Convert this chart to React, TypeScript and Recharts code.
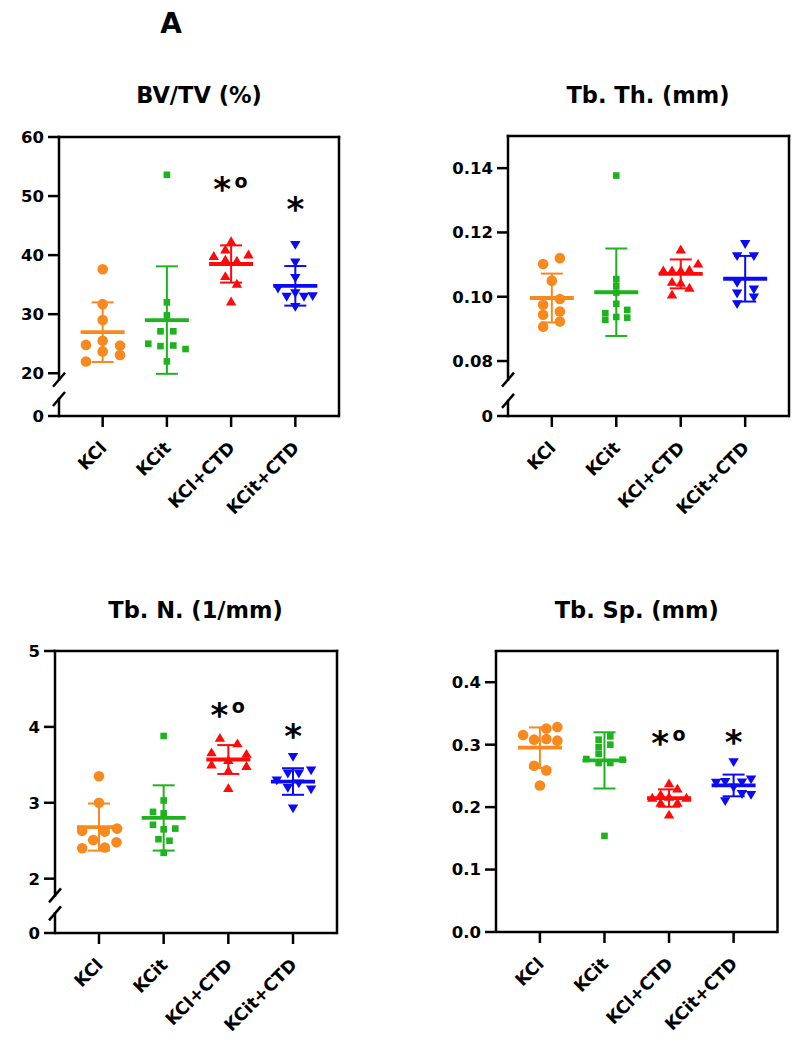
import React from 'react';
import { ScatterChart, Scatter, XAxis, YAxis, ErrorBar, ReferenceLine } from 'recharts';

const groups = ['KCl', 'KCit', 'KCl+CTD', 'KCit+CTD'];
const colors = ['#F7891F', '#1DB31D', '#FF0A0A', '#0A0AF5'];
const markers = ['circle', 'square', 'triangle', 'triangleDown'];

// BV/TV (%)
const bvtvKCl = [37.6, 31.7, 29.0, 25.5, 24.8, 24.7, 23.7, 23.1, 22.0];
const bvtvKCit = [53.6, 32.0, 29.8, 27.1, 27.1, 25.0, 24.6, 24.7, 24.1, 22.0];
const bvtvKClCTD = [42.3, 40.9, 39.8, 40.05, 39.2, 39.0, 36.4, 35.1, 32.1];
const bvtvKCitCTD = [41.8, 38.8, 36.2, 34.4, 33.0, 33.6, 33.0, 33.1, 31.3];
const bvtvJitter = [
  [0, 0, 0, 0, -0.26, 0.27, 0, 0.27, -0.26],
  [0, 0, 0, -0.1, 0.1, -0.29, -0.1, 0.1, 0.29, 0],
  [0, -0.09, -0.27, 0.27, -0.09, 0.09, -0.09, 0.09, 0],
  [0, 0, 0, -0.27, -0.135, 0, 0.135, 0.27, 0],
];
const bvtvMean = [26.95, 29.0, 38.5, 34.8];
const bvtvSD = [5.05, 9.1, 3.15, 3.35];
const bvtvMarks = ['', '', '*o', '*'];
const bvtvMarkY = [0, 0, 52.3, 49.0];

// Tb. Th. (mm)
const tbthKCl = [0.1102, 0.112, 0.105, 0.0993, 0.0975, 0.0944, 0.0954, 0.0923, 0.0907];
const tbthKCit = [0.1377, 0.1055, 0.1034, 0.1013, 0.0978, 0.0949, 0.0959, 0.0928, 0.0937, 0.0935];
const tbthKClCTD = [0.1146, 0.1081, 0.1081, 0.1081, 0.1083, 0.1102, 0.1045, 0.1042, 0.1027, 0.1006];
const tbthKCitCTD = [0.1165, 0.1127, 0.1127, 0.1044, 0.1024, 0.1011, 0.0999, 0.0978];
const tbthJitter = [
  [-0.135, 0.125, 0, 0.125, -0.135, -0.135, 0.125, 0.125, -0.135],
  [0, 0, 0, 0, 0, -0.17, 0.17, -0.17, 0, 0.17],
  [0, -0.27, -0.135, 0, 0.135, 0.27, -0.135, 0, 0.135, -0.135],
  [0, -0.125, 0.135, -0.125, 0.135, -0.125, 0.135, -0.125],
];
const tbthMean = [0.0996, 0.1014, 0.1071, 0.1056];
const tbthSD = [0.0076, 0.0136, 0.0045, 0.0071];
const tbthMarks = ['', '', '', ''];
const tbthMarkY = [0, 0, 0, 0];

// Tb. N. (1/mm)
const tbnKCl = [3.35, 3.0, 2.63, 2.62, 2.66, 2.51, 2.48, 2.4, 2.41];
const tbnKCit = [3.88, 3.03, 2.88, 2.86, 2.71, 2.65, 2.66, 2.52, 2.5, 2.34];
const tbnKClCTD = [3.85, 3.78, 3.66, 3.64, 3.5, 3.48, 3.56, 3.42, 3.19];
const tbnKCitCTD = [3.61, 3.39, 3.39, 3.43, 3.3, 3.2, 3.26, 3.18, 2.93];
const tbnJitter = [
  [0, 0, -0.26, 0.09, 0.28, -0.09, 0.27, -0.26, 0.09],
  [0, 0, -0.165, 0, -0.165, 0, 0.18, -0.08, 0.09, 0],
  [-0.13, 0.14, -0.26, 0.28, -0.26, 0.28, 0, 0, 0],
  [0, -0.08, 0.09, 0.28, -0.25, -0.08, 0.09, 0.28, 0],
];
const tbnMean = [2.68, 2.8, 3.57, 3.28];
const tbnSD = [0.31, 0.43, 0.19, 0.175];
const tbnMarks = ['', '', '*o', '*'];
const tbnMarkY = [0, 0, 4.25, 3.97];

// Tb. Sp. (mm)
const tbspKCl = [0.3156, 0.3257, 0.3284, 0.308, 0.309, 0.3064, 0.2663, 0.2588, 0.2347];
const tbspKCit = [0.1539, 0.308, 0.3133, 0.2963, 0.3, 0.2855, 0.2706, 0.2706, 0.277, 0.276];
const tbspKClCTD = [0.2375, 0.229, 0.22, 0.2145, 0.216, 0.2145, 0.2065, 0.2065, 0.1876];
const tbspKCitCTD = [0.2725, 0.245, 0.241, 0.24, 0.2395, 0.232, 0.2215, 0.22, 0.21];
const tbspJitter = [
  [-0.26, 0.1, 0.27, -0.09, 0.1, 0.27, -0.09, 0.1, 0],
  [0, -0.09, 0.09, -0.09, 0.09, -0.09, -0.09, 0.09, -0.28, 0.28],
  [0, 0.13, -0.13, -0.26, 0, 0.27, -0.13, 0.13, 0],
  [0, 0.27, -0.13, 0.13, -0.27, 0, 0.13, 0.27, -0.13],
];
const tbspMean = [0.2952, 0.2748, 0.2145, 0.2347];
const tbspSD = [0.0324, 0.045, 0.0139, 0.0174];
const tbspMarks = ['', '', '*o', '*'];
const tbspMarkY = [0, 0, 0.3144, 0.316];

const X_MIN = 0.32;
const X_MAX = 4.68;
const FONT = '"DejaVu Sans", Arial, sans-serif';
const PAD_L = 60;
const PAD_T = 20;
const PAD_R = 10;
const PAD_B = 110;

const markerShape = (kind: string, color: string) => (props: any) => {
  const { cx, cy } = props;
  if (cx == null || cy == null) return null;
  if (kind === 'circle') return <circle cx={cx} cy={cy} r={5.3} fill={color} />;
  if (kind === 'square') return <rect x={cx - 3.3} y={cy - 3.3} width={6.6} height={6.6} fill={color} />;
  if (kind === 'triangle')
    return <path d={`M${cx},${cy - 5.2}L${cx + 5.2},${cy + 3.6}L${cx - 5.2},${cy + 3.6}Z`} fill={color} />;
  return <path d={`M${cx},${cy + 5.2}L${cx + 5.2},${cy - 3.6}L${cx - 5.2},${cy - 3.6}Z`} fill={color} />;
};

const meanShape = (color: string) => (props: any) => {
  const { cx, cy } = props;
  if (cx == null || cy == null) return null;
  return <line x1={cx - 22} x2={cx + 22} y1={cy} y2={cy} stroke={color} strokeWidth={3.8} />;
};

const markShape = (props: any) => {
  const { cx, cy, payload } = props;
  if (cx == null || cy == null) return null;
  const two = payload.mark.length > 1;
  return (
    <g fontFamily={FONT} fontWeight={700} fill="#000">
      <text x={two ? cx - 9 : cx} y={cy + 19} textAnchor="middle" fontSize={34}>*</text>
      {two && (
        <text x={cx + 10} y={cy + 5.5} textAnchor="middle" fontSize={19}>o</text>
      )}
    </g>
  );
};

const XTick = (props: any) => {
  const { x, y, payload } = props;
  const ax = x + 5;
  const ay = y + 22;
  return (
    <text
      x={ax}
      y={ay}
      textAnchor="end"
      transform={`rotate(-45 ${ax} ${ay})`}
      fontSize={17.5}
      fontWeight={700}
      fontFamily={FONT}
      fill="#000"
    >
      {groups[payload.value - 1]}
    </text>
  );
};

interface PanelProps {
  title: string;
  values: number[][];
  jitter: number[][];
  means: number[];
  sds: number[];
  marks: string[];
  markY: number[];
  yMin: number;
  yMax: number;
  yTicks: number[];
  fmt: (v: number) => string;
  breaks?: [number, number];
  left: number;
  top: number;
  w: number;
  h: number;
  titleTop: number;
}

const Panel = ({ title, values, jitter, means, sds, marks, markY, yMin, yMax, yTicks, fmt, breaks, left, top, w, h, titleTop }: PanelProps) => {
  const unitX = (X_MAX - X_MIN) / w;
  const unitY = (yMax - yMin) / h;
  const line = { stroke: '#000', strokeWidth: 2.5 };
  const frame = { ...line, strokeLinecap: 'square' as const, ifOverflow: 'visible' as const };
  const slash = { ...line, ifOverflow: 'visible' as const };
  const markData = marks
    .map((m, g) => (m ? { x: g + 1, y: markY[g], mark: m } : null))
    .filter(Boolean);

  return (
    <>
      <div
        style={{
          position: 'absolute',
          left,
          width: w,
          top: titleTop,
          textAlign: 'center',
          fontFamily: FONT,
          fontWeight: 700,
          fontSize: 22.5,
          lineHeight: '22px',
          whiteSpace: 'nowrap',
        }}
      >
        {title}
      </div>
      <div style={{ position: 'absolute', left: left - PAD_L, top: top - PAD_T }}>
        <ScatterChart
          width={w + PAD_L + PAD_R}
          height={h + PAD_T + PAD_B}
          margin={{ top: PAD_T, right: PAD_R, bottom: 0, left: 0 }}
        >
          <XAxis
            type="number"
            dataKey="x"
            domain={[X_MIN, X_MAX]}
            ticks={[1, 2, 3, 4]}
            allowDataOverflow
            interval={0}
            height={PAD_B}
            tickSize={11}
            tickMargin={0}
            axisLine={line}
            tickLine={line}
            tick={<XTick />}
          />
          <YAxis
            type="number"
            dataKey="y"
            domain={[yMin, yMax]}
            ticks={yTicks}
            allowDataOverflow
            interval={0}
            width={PAD_L}
            tickSize={11}
            tickMargin={4}
            axisLine={breaks ? false : line}
            tickLine={line}
            tick={{ fill: '#000', fontSize: 16.5, fontWeight: 700, fontFamily: FONT }}
            tickFormatter={fmt}
          />
          <ReferenceLine y={yMax} {...frame} />
          <ReferenceLine x={X_MAX} {...frame} />
          {breaks && (
            <ReferenceLine segment={[{ x: X_MIN, y: breaks[0] }, { x: X_MIN, y: yMax }]} {...frame} />
          )}
          {breaks && (
            <ReferenceLine segment={[{ x: X_MIN, y: yMin }, { x: X_MIN, y: breaks[1] }]} {...frame} />
          )}
          {breaks &&
            breaks.map((b, i) => (
              <ReferenceLine
                key={'brk' + i}
                segment={[
                  { x: X_MIN - 6 * unitX, y: b - 7 * unitY },
                  { x: X_MIN + 6 * unitX, y: b + 7 * unitY },
                ]}
                {...slash}
              />
            ))}
          {values.map((vals, g) => (
            <Scatter
              key={'pts' + g}
              data={vals.map((v, i) => ({ x: g + 1 + jitter[g][i], y: v }))}
              shape={markerShape(markers[g], colors[g])}
              isAnimationActive={false}
            />
          ))}
          {means.map((m, g) => (
            <Scatter
              key={'mean' + g}
              data={[{ x: g + 1, y: m, sd: sds[g] }]}
              shape={meanShape(colors[g])}
              isAnimationActive={false}
            >
              <ErrorBar
                dataKey="sd"
                direction="y"
                width={11}
                stroke={colors[g]}
                strokeWidth={2}
                isAnimationActive={false}
              />
            </Scatter>
          ))}
          {markData.length > 0 && (
            <Scatter data={markData as any[]} shape={markShape} isAnimationActive={false} />
          )}
        </ScatterChart>
      </div>
    </>
  );
};

const near = (a: number, b: number) => Math.abs(a - b) < 1e-9;

const BVTV_ZERO = 12.76;
const TBTH_ZERO = 0.0629;
const TBN_ZERO = 1.284;

export default function App() {
  return (
    <div style={{ position: 'relative', width: 799, height: 1050, background: '#fff' }}>
      <style>{'body{margin:0;overflow:hidden;}'}</style>
      <div
        style={{
          position: 'absolute',
          left: 121,
          width: 100,
          top: 10,
          textAlign: 'center',
          fontFamily: FONT,
          fontWeight: 700,
          fontSize: 28,
          lineHeight: '27px',
        }}
      >
        A
      </div>
      <Panel
        title="BV/TV (%)"
        values={[bvtvKCl, bvtvKCit, bvtvKClCTD, bvtvKCitCTD]}
        jitter={bvtvJitter}
        means={bvtvMean}
        sds={bvtvSD}
        marks={bvtvMarks}
        markY={bvtvMarkY}
        yMin={BVTV_ZERO}
        yMax={60}
        yTicks={[BVTV_ZERO, 20, 30, 40, 50, 60]}
        fmt={(v) => (near(v, BVTV_ZERO) ? '0' : String(v))}
        breaks={[18.9, 15.64]}
        left={59}
        top={137}
        w={280}
        h={279}
        titleTop={84}
      />
      <Panel
        title="Tb. Th. (mm)"
        values={[tbthKCl, tbthKCit, tbthKClCTD, tbthKCitCTD]}
        jitter={tbthJitter}
        means={tbthMean}
        sds={tbthSD}
        marks={tbthMarks}
        markY={tbthMarkY}
        yMin={TBTH_ZERO}
        yMax={0.15}
        yTicks={[TBTH_ZERO, 0.08, 0.1, 0.12, 0.14]}
        fmt={(v) => (near(v, TBTH_ZERO) ? '0' : v.toFixed(2))}
        breaks={[0.0742, 0.0676]}
        left={507.5}
        top={136}
        w={281}
        h={280}
        titleTop={84}
      />
      <Panel
        title="Tb. N. (1/mm)"
        values={[tbnKCl, tbnKCit, tbnKClCTD, tbnKCitCTD]}
        jitter={tbnJitter}
        means={tbnMean}
        sds={tbnSD}
        marks={tbnMarks}
        markY={tbnMarkY}
        yMin={TBN_ZERO}
        yMax={5}
        yTicks={[TBN_ZERO, 2, 3, 4, 5]}
        fmt={(v) => (near(v, TBN_ZERO) ? '0' : String(v))}
        breaks={[1.78, 1.543]}
        left={54.5}
        top={650.5}
        w={282}
        h={282}
        titleTop={599}
      />
      <Panel
        title="Tb. Sp. (mm)"
        values={[tbspKCl, tbspKCit, tbspKClCTD, tbspKCitCTD]}
        jitter={tbspJitter}
        means={tbspMean}
        sds={tbspSD}
        marks={tbspMarks}
        markY={tbspMarkY}
        yMin={0}
        yMax={0.45}
        yTicks={[0, 0.1, 0.2, 0.3, 0.4]}
        fmt={(v) => v.toFixed(1)}
        left={496}
        top={650.5}
        w={281.5}
        h={281}
        titleTop={599}
      />
    </div>
  );
}
